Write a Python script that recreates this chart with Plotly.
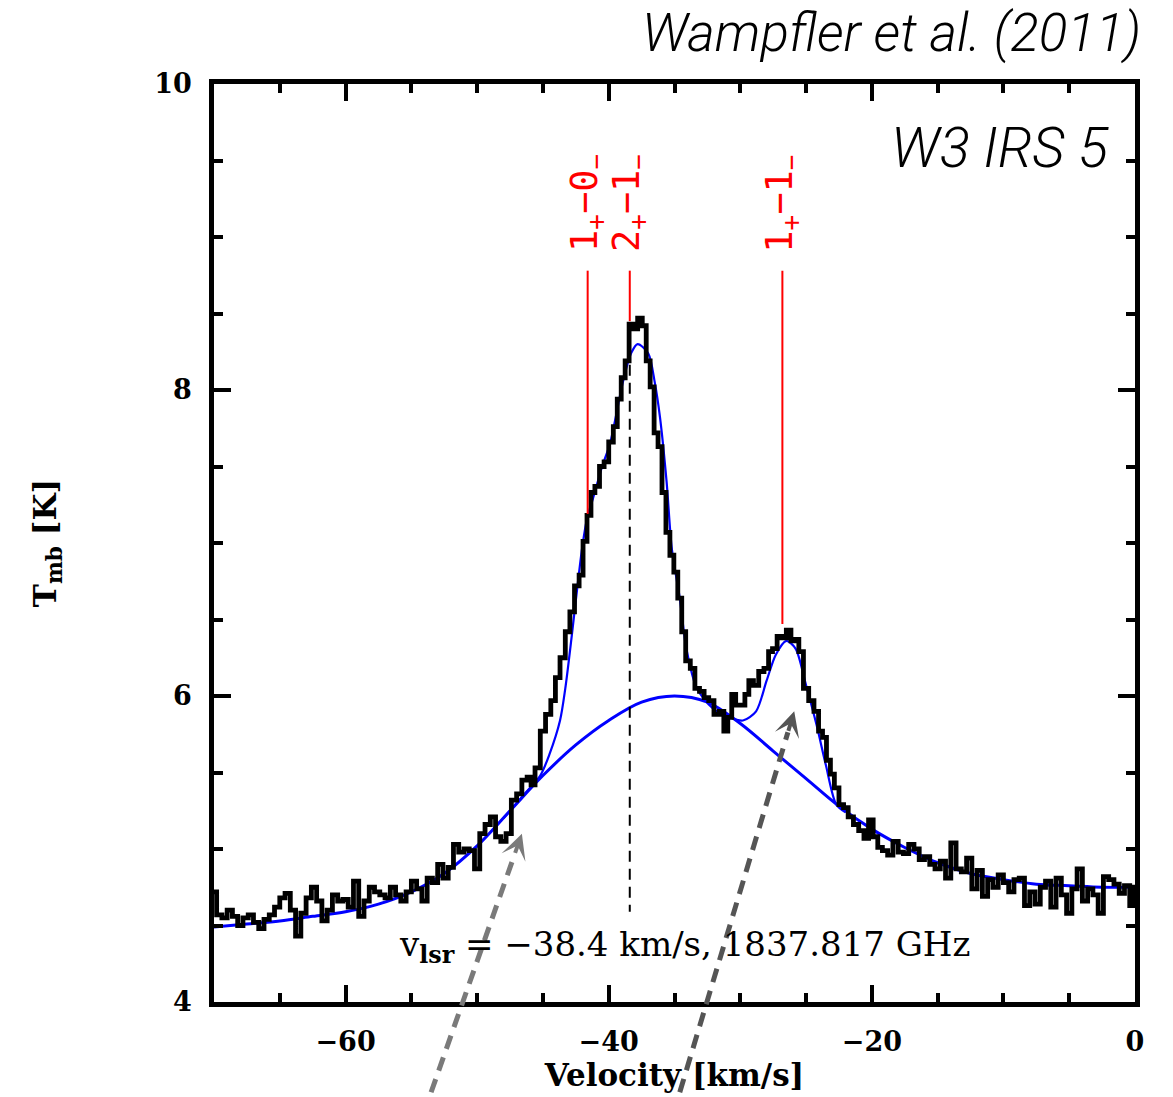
import plotly.graph_objects as go

# Observed spectrum (main-beam temperature vs. LSR velocity)
velocity_kms = [
    -70.0, -69.6, -69.2, -68.8, -68.4, -68.0, -67.6, -67.2, -66.8, -66.4,
    -66.0, -65.6, -65.2, -64.8, -64.4, -64.0, -63.6, -63.2, -62.8, -62.4,
    -62.0, -61.6, -61.2, -60.8, -60.4, -60.0, -59.6, -59.2, -58.8, -58.4,
    -58.0, -57.6, -57.2, -56.8, -56.4, -56.0, -55.6, -55.2, -54.8, -54.4,
    -54.0, -53.6, -53.2, -52.8, -52.4, -52.0, -51.6, -51.2, -50.8, -50.4,
    -50.0, -49.6, -49.2, -48.8, -48.4, -48.0, -47.6, -47.2, -46.8, -46.4,
    -46.0, -45.8, -45.4, -45.0, -44.6, -44.2, -43.9, -43.5, -43.1, -42.8,
    -42.4, -42.1, -41.8, -41.5, -41.2, -40.9, -40.5, -40.2, -39.8, -39.5,
    -39.2, -38.9, -38.6, -38.3, -38.0, -37.6, -37.3, -37.0, -36.7, -36.4,
    -36.1, -35.8, -35.5, -35.2, -34.9, -34.6, -34.3, -34.0, -33.6, -33.3,
    -32.9, -32.6, -32.2, -31.8, -31.4, -31.1, -30.8, -30.5, -30.2, -29.8,
    -29.5, -29.2, -28.8, -28.4, -28.0, -27.7, -27.4, -27.0, -26.7, -26.3,
    -26.0, -25.7, -25.4, -25.0, -24.6, -24.2, -23.9, -23.6, -23.3, -23.0,
    -22.7, -22.3, -22.0, -21.6, -21.2, -20.8, -20.4, -20.1, -19.7, -19.4,
    -19.0, -18.6, -18.2, -17.8, -17.4, -17.0, -16.6, -16.2, -15.8, -15.4,
    -15.0, -14.6, -14.2, -13.8, -13.4, -13.0, -12.6, -12.2, -11.8, -11.4,
    -11.0, -10.6, -10.2, -9.8, -9.4, -9.0, -8.6, -8.2, -7.8, -7.4,
    -7.0, -6.6, -6.2, -5.8, -5.4, -5.0, -4.6, -4.2, -3.8, -3.4,
    -3.0, -2.6, -2.2, -1.8, -1.4, -1.0, -0.6, -0.2, 0.0,
]
tmb_k = [
    4.72, 4.57, 4.55, 4.60, 4.56, 4.50, 4.55, 4.57, 4.52, 4.48,
    4.54, 4.57, 4.62, 4.68, 4.71, 4.60, 4.43, 4.58, 4.68, 4.75,
    4.66, 4.53, 4.60, 4.70, 4.66, 4.67, 4.62, 4.79, 4.56, 4.66,
    4.75, 4.72, 4.70, 4.68, 4.75, 4.70, 4.66, 4.72, 4.79, 4.74,
    4.66, 4.81, 4.78, 4.90, 4.81, 4.88, 5.03, 4.98, 5.00, 4.99,
    4.87, 5.10, 5.16, 5.21, 5.08, 5.05, 5.10, 5.32, 5.36, 5.45,
    5.47, 5.42, 5.53, 5.77, 5.88, 5.97, 6.12, 6.25, 6.42, 6.55,
    6.72, 6.79, 7.01, 7.18, 7.33, 7.37, 7.50, 7.53, 7.66, 7.76,
    7.94, 8.08, 8.19, 8.43, 8.40, 8.47, 8.42, 8.19, 8.02, 7.72,
    7.63, 7.33, 7.07, 6.92, 6.81, 6.64, 6.42, 6.23, 6.18, 6.05,
    6.03, 5.99, 5.97, 5.88, 5.90, 5.77, 5.86, 6.01, 5.94, 5.94,
    6.01, 6.10, 6.07, 6.16, 6.18, 6.29, 6.31, 6.39, 6.38, 6.43,
    6.36, 6.37, 6.29, 6.05, 5.97, 5.90, 5.77, 5.73, 5.58, 5.49,
    5.40, 5.29, 5.27, 5.21, 5.16, 5.12, 5.07, 5.19, 5.08, 5.01,
    4.99, 4.96, 5.05, 4.98, 4.97, 5.03, 5.00, 4.93, 4.95, 4.90,
    4.87, 4.92, 4.81, 5.04, 4.87, 4.85, 4.94, 4.74, 4.86, 4.69,
    4.80, 4.75, 4.83, 4.78, 4.72, 4.80, 4.81, 4.63, 4.72, 4.64,
    4.75, 4.79, 4.62, 4.81, 4.70, 4.58, 4.74, 4.87, 4.66, 4.74,
    4.70, 4.58, 4.82, 4.80, 4.77, 4.71, 4.76, 4.63, 4.75,
]

# Broad (outflow) component plus continuum
broad_v = [-70.0, -67.5, -65.0, -62.5, -60.0, -57.5, -55.0, -52.5, -50.0, -47.5,
           -45.0, -42.5, -40.0, -37.5, -35.0, -32.5, -30.0, -27.5, -25.0, -22.5,
           -20.0, -17.5, -15.0, -12.5, -10.0, -7.5, -5.0, -2.5, 0.0]
broad_t = [4.49, 4.51, 4.53, 4.56, 4.59, 4.64, 4.72, 4.84, 5.02, 5.25,
           5.48, 5.68, 5.84, 5.96, 6.00, 5.96, 5.82, 5.64, 5.46, 5.28,
           5.13, 5.01, 4.91, 4.84, 4.80, 4.77, 4.76, 4.75, 4.75]

# Total fit (broad + narrow hyperfine components)
fit_v = [-48.0, -46.5, -45.2, -44.5, -43.7, -43.3, -42.8, -42.4, -42.0, -41.6,
         -41.2, -40.5, -39.9, -38.9, -38.3, -37.8, -37.0, -36.5, -36.1, -35.6,
         -35.2, -34.6, -34.1, -33.3, -32.1, -30.8, -29.8, -28.8, -28.0, -27.3,
         -26.5, -25.8, -25.0, -24.2, -23.5, -22.7, -22.0]
fit_t = [5.20, 5.35, 5.48, 5.62, 5.84, 6.05, 6.40, 6.70, 6.98, 7.18,
         7.29, 7.50, 7.65, 8.06, 8.24, 8.30, 8.24, 8.05, 7.82, 7.40,
         6.96, 6.64, 6.31, 6.05, 5.92, 5.86, 5.84, 5.90, 6.10, 6.27,
         6.36, 6.31, 6.07, 5.81, 5.55, 5.29, 5.24]

# Hyperfine transitions marked in red
transition_labels = ["1<sub>+</sub>−0<sub>−</sub>", "2<sub>+</sub>−1<sub>−</sub>", "1<sub>+</sub>−1<sub>−</sub>"]
transition_v = [-41.6, -38.4, -26.8]
transition_line_top = 8.78
transition_line_bottom = [7.19, 8.45, 6.47]
transition_label_t = 9.22

# Systemic velocity marker
vlsr = -38.4
vlsr_line = (8.40, 4.59)

# Pointer arrows: (tail_v, tail_t, tip_v, tip_t, colour)
arrows = [
    (-53.5, 3.41, -46.6, 5.10, "#7a7a7a"),
    (-34.6, 3.41, -25.9, 5.90, "#555555"),
]

X_RANGE = [-70, 0]
Y_RANGE = [4, 10]
W, H = 1173, 1097
ML, MR, MT, MB = 214, 38, 84, 93
PW, PH = W - ML - MR, H - MT - MB


def to_paper(v, t):
    return ((v - X_RANGE[0]) / (X_RANGE[1] - X_RANGE[0]),
            (t - Y_RANGE[0]) / (Y_RANGE[1] - Y_RANGE[0]))


def px_to_paper(xp, yp):
    return (xp - ML) / PW, (H - MB - yp) / PH


fig = go.Figure()

fig.add_trace(go.Scatter(x=broad_v, y=broad_t, mode="lines",
                         line=dict(color="#0000ff", width=3, shape="spline"),
                         hoverinfo="skip", showlegend=False))
fig.add_trace(go.Scatter(x=fit_v, y=fit_t, mode="lines",
                         line=dict(color="#0000ff", width=2.2, shape="spline", smoothing=0.8),
                         hoverinfo="skip", showlegend=False))
fig.add_trace(go.Scatter(x=velocity_kms, y=tmb_k, mode="lines",
                         line=dict(color="black", width=4.8, shape="hvh"),
                         showlegend=False))

shapes = []
for v, bottom in zip(transition_v, transition_line_bottom):
    shapes.append(dict(type="line", xref="x", yref="y", x0=v, x1=v,
                       y0=transition_line_top, y1=bottom,
                       line=dict(color="#ff0000", width=2)))
shapes.append(dict(type="line", xref="x", yref="y", x0=vlsr, x1=vlsr,
                   y0=vlsr_line[0], y1=vlsr_line[1],
                   line=dict(color="black", width=2, dash="11px,7px")))

annotations = []
for lab, v in zip(transition_labels, transition_v):
    annotations.append(dict(x=v, y=transition_label_t, xref="x", yref="y",
                            text=lab, textangle=-90, showarrow=False,
                            xanchor="center", yanchor="middle",
                            font=dict(family="DejaVu Sans Mono", size=37, color="#ff0000")))

for tv, tt, hv, ht, col in arrows:
    x0, y0 = to_paper(tv, tt)
    x1, y1 = to_paper(hv, ht)
    dxp, dyp = (x1 - x0) * PW, (y1 - y0) * PH
    length = (dxp ** 2 + dyp ** 2) ** 0.5
    ux, uy = dxp / length, dyp / length
    head = 22
    # dashed shaft ends under the arrow head
    xe = x1 - ux * head / PW
    ye = y1 - uy * head / PH
    shapes.append(dict(type="line", xref="paper", yref="paper",
                       x0=x0, y0=y0, x1=xe, y1=ye,
                       line=dict(color=col, width=5, dash="14px,9px")))
    annotations.append(dict(x=hv, y=ht, xref="x", yref="y", text="",
                            showarrow=True, arrowhead=3, arrowsize=1.05,
                            arrowwidth=4, arrowcolor=col,
                            ax=-ux * head, ay=uy * head))

tx, ty = px_to_paper(1143, 33)
annotations.append(dict(x=tx, y=ty, xref="paper", yref="paper",
                        text="Wampfler et al. (2011)", showarrow=False,
                        xanchor="right", yanchor="middle",
                        font=dict(family="Roboto", size=53, color="black",
                                  style="italic", weight=300)))
tx, ty = px_to_paper(1111, 148)
annotations.append(dict(x=tx, y=ty, xref="paper", yref="paper",
                        text="W3 IRS 5", showarrow=False,
                        xanchor="right", yanchor="middle",
                        font=dict(family="Roboto", size=56, color="black",
                                  style="italic", weight=300)))
tx, ty = px_to_paper(684, 948)
annotations.append(dict(x=tx, y=ty, xref="paper", yref="paper",
                        text="v<sub><b>lsr</b></sub> = −38.4 km/s, 1837.817 GHz",
                        showarrow=False, xanchor="center", yanchor="middle",
                        font=dict(family="DejaVu Serif", size=34, color="black")))

tick_font = dict(family="DejaVu Serif", size=27, color="black", weight="bold")
title_font = dict(family="DejaVu Serif", size=31, color="black", weight="bold")

fig.update_layout(
    width=W, height=H,
    margin=dict(l=ML, r=MR, t=MT, b=MB),
    paper_bgcolor="white", plot_bgcolor="white",
    shapes=shapes, annotations=annotations,
    xaxis=dict(range=X_RANGE, tick0=0, dtick=20, showgrid=False, zeroline=False,
               showline=True, linewidth=4.5, linecolor="black", mirror="ticks",
               ticks="inside", ticklen=17, tickwidth=4, tickcolor="black",
               minor=dict(ticks="inside", dtick=5, ticklen=9, tickwidth=4, tickcolor="black"),
               tickfont=tick_font, ticklabelstandoff=12,
               title=dict(text="Velocity [km/s]", font=title_font, standoff=6)),
    yaxis=dict(range=Y_RANGE, tick0=0, dtick=2, showgrid=False, zeroline=False,
               showline=True, linewidth=4.5, linecolor="black", mirror="ticks",
               ticks="inside", ticklen=17, tickwidth=4, tickcolor="black",
               minor=dict(ticks="inside", dtick=0.5, ticklen=9, tickwidth=4, tickcolor="black"),
               tickfont=tick_font, ticklabelstandoff=12,
               title=dict(text="T<sub>mb</sub> [K]", font=title_font, standoff=90)),
)

fig.write_html("out.html")
